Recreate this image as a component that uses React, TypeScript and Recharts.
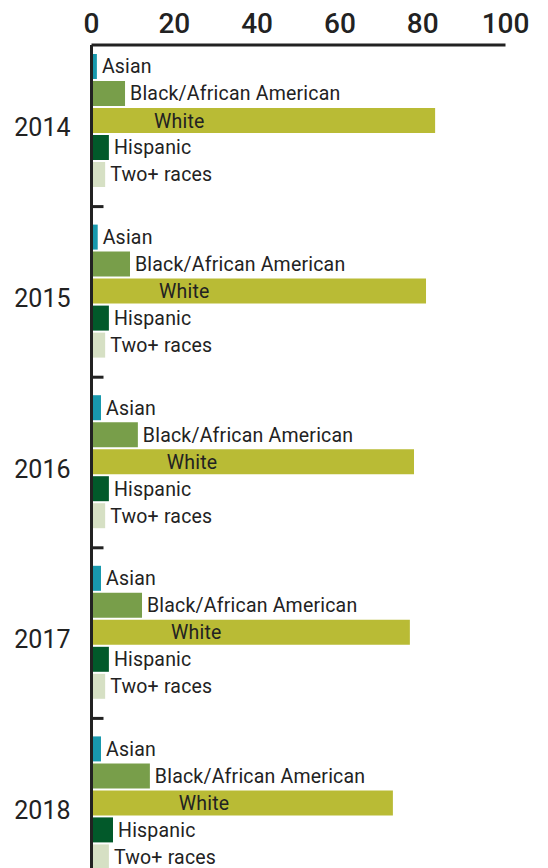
import { Bar, BarChart, LabelList, XAxis, YAxis } from "recharts";

const years = ["2014", "2015", "2016", "2017", "2018"];
const asian = [1.3, 1.5, 2.3, 2.3, 2.3];
const black = [8.1, 9.3, 11.2, 12.2, 14.1];
const white = [83.0, 80.8, 77.9, 76.9, 72.8];
const hispanic = [4.2, 4.2, 4.2, 4.2, 5.2];
const twoPlus = [3.3, 3.3, 3.3, 3.3, 4.2];
const xTicks = [0, 20, 40, 60, 80, 100];

const data = years.map((year, i) => ({
  year,
  asian: asian[i],
  black: black[i],
  white: white[i],
  hispanic: hispanic[i],
  twoPlus: twoPlus[i],
}));

const W = 548;
const H = 889;
const AXIS_X = 91.5;
const TOP = 45;
const PAD_TOP = -9;
const BAND = (H - TOP - PAD_TOP) / years.length;
const INK = "#222222";
const LABEL_SIZE = 19.5;

function YearTick(props: any) {
  const { y, payload } = props;
  return (
    <g>
      <text x={AXIS_X - 21} y={y + 15} textAnchor="end" fontSize={25} fill={INK}>
        {payload.value}
      </text>
      <line x1={AXIS_X} x2={AXIS_X + 12} y1={y + BAND / 2} y2={y + BAND / 2} stroke={INK} strokeWidth={3} />
    </g>
  );
}

// "White" sits inside its bar, a little past where the Black bar of that year ends
function WhiteLabel(props: any) {
  const { x, y, width, height, value, index } = props;
  const perUnit = width / value;
  const lx = x + black[index] * perUnit + 29;
  return (
    <text x={lx} y={y + height / 2} dy="0.36em" fontSize={LABEL_SIZE} letterSpacing={0.2} fill={INK}>
      White
    </text>
  );
}

const label = (name: string) => (
  <LabelList
    dataKey={() => name}
    position="right"
    offset={5}
    fontSize={LABEL_SIZE}
    letterSpacing={0.2}
    fill={INK}
  />
);

export default function App() {
  return (
    <div
      style={{
        position: "absolute",
        left: 0,
        top: 0,
        width: W,
        height: 868,
        overflow: "hidden",
        fontFamily: "Roboto, sans-serif",
        background: "#fff",
      }}
    >
      <BarChart
        width={W}
        height={H}
        data={data}
        layout="vertical"
        margin={{ top: 0, right: W - AXIS_X - 414, bottom: 0, left: 0 }}
        barCategoryGap={18}
        barGap={2}
      >
        <XAxis
          type="number"
          orientation="top"
          domain={[0, 100]}
          ticks={xTicks}
          height={TOP}
          tickLine={false}
          tickMargin={6}
          axisLine={{ stroke: INK, strokeWidth: 3 }}
          tick={{ fontSize: 28, fontWeight: 500, fill: INK }}
        />
        <YAxis
          type="category"
          dataKey="year"
          width={AXIS_X}
          padding={{ top: PAD_TOP, bottom: 0 }}
          tickLine={false}
          axisLine={{ stroke: INK, strokeWidth: 3 }}
          tick={<YearTick />}
        />
        <Bar dataKey="asian" fill="#1899ad" isAnimationActive={false}>
          {label("Asian")}
        </Bar>
        <Bar dataKey="black" fill="#789e4a" isAnimationActive={false}>
          {label("Black/African American")}
        </Bar>
        <Bar dataKey="white" fill="#b9bb35" isAnimationActive={false}>
          <LabelList dataKey="white" content={<WhiteLabel />} />
        </Bar>
        <Bar dataKey="hispanic" fill="#02592a" isAnimationActive={false}>
          {label("Hispanic")}
        </Bar>
        <Bar dataKey="twoPlus" fill="#d6e0c4" isAnimationActive={false}>
          {label("Two+ races")}
        </Bar>
      </BarChart>
    </div>
  );
}
